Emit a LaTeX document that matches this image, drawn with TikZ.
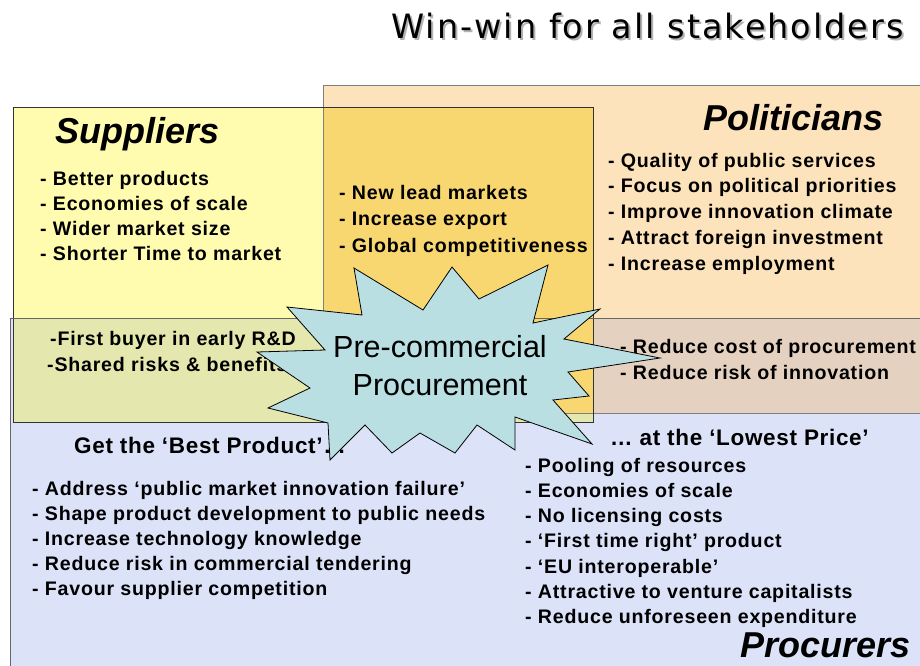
\documentclass[tikz,border=0pt]{standalone}
\usepackage{fontspec}
\setmainfont{Liberation Sans}
\newfontfamily\titlefont{DejaVu Sans}[LetterSpace=6]
\definecolor{polfill}{HTML}{FDE3BB}
\definecolor{supfill}{HTML}{FFFCB0}
\definecolor{goldfill}{HTML}{F9D770}
\definecolor{profill}{HTML}{DCE3F9}
\definecolor{spfill}{HTML}{E4E7AE}
\definecolor{ppfill}{HTML}{E5D1C0}
\definecolor{starfill}{HTML}{B9DFE2}
\newcommand\bodyfont{\fontsize{19.6}{23}\selectfont\bfseries\addfontfeature{LetterSpace=4}}
\newcommand\subheadfont{\fontsize{22.5}{26}\selectfont\bfseries\addfontfeature{LetterSpace=3}}
\newcommand\headfont{\fontsize{36}{40}\selectfont\bfseries\itshape}
\newcommand\titletext{Win-win for all stakeholders}
\tikzset{
  item/.style={font=\bodyfont, anchor=base west, inner sep=0pt},
  subhead/.style={font=\subheadfont, anchor=base west, inner sep=0pt},
  heading/.style={font=\headfont, anchor=base west, inner sep=0pt},
  burst/.style={fill=starfill, draw=black, line width=0.8pt, line join=miter},
  starlabel/.style={font=\fontsize{30.5}{34}\selectfont, anchor=base, inner sep=0pt},
}
\begin{document}
\begin{tikzpicture}[x=1pt,y=-1pt]
\useasboundingbox (0,0) rectangle (920,665);
\fill[white] (0,0) rectangle (920,665);

% stakeholder areas and their overlaps
\fill[polfill] (323,85) rectangle (925,413);
\fill[profill] (10,318) rectangle (925,670);
\fill[ppfill] (593,318) rectangle (925,413);
\fill[supfill] (13,107) rectangle (593,422);
\fill[spfill] (13,318) rectangle (593,422);
\fill[goldfill] (323,107) rectangle (593,413);

% outlines
\draw[color=black!50, line width=0.8pt] (323,85) rectangle (925,413);
\draw[color=black!80, line width=0.8pt] (13,107) rectangle (593,422);
\draw[color=black!60, line width=0.8pt] (10,318) rectangle (925,670);

% title with its drop shadow
\node[font=\titlefont\fontsize{33.5}{36}\selectfont, anchor=base east, inner sep=0pt] (title) at (904,38)
  {\rlap{\kern2pt\raisebox{-2pt}{\color{black!30}\titletext}}\titletext};

% headings
\node[heading] (suppliers) at (55,143) {Suppliers};
\node[heading] (politicians) at (703,130) {Politicians};
\node[heading] (procurers) at (740,657) {Procurers};

% supplier benefits
\foreach \t [count=\i] in {Better products, Economies of scale, Wider market size, Shorter Time to market}
  \node[item] (sup\i) at (40,{185+25.3*(\i-1)}) {- \t};

% suppliers and politicians
\foreach \t [count=\i] in {New lead markets, Increase export, Global competitiveness}
  \node[item] (sp\i) at (339,{199+26.5*(\i-1)}) {- \t};

% politician benefits
\foreach \t [count=\i] in {Quality of public services, Focus on political priorities, Improve innovation climate, Attract foreign investment, Increase employment}
  \node[item] (pol\i) at (608,{167+25.8*(\i-1)}) {- \t};

% suppliers and procurers
\node[item] (spr1) at (50,345) {-First buyer in early R\&D};
\node[item] (spr2) at (47,371) {-Shared risks \& benefits};

% politicians and procurers
\node[item] (ppr1) at (620,353) {- Reduce cost of procurement};
\node[item] (ppr2) at (620,379) {- Reduce risk of innovation};

% procurer benefits
\node[subhead] (best) at (74,453) {Get the ‘Best Product’…};
\foreach \t [count=\i] in {Address ‘public market innovation failure’, Shape product development to public needs, Increase technology knowledge, Reduce risk in commercial tendering, Favour supplier competition}
  \node[item] (pra\i) at (32,{495+25*(\i-1)}) {- \t};

\node[subhead] (lowest) at (610,445) {… at the ‘Lowest Price’};
\foreach \t [count=\i] in {Pooling of resources, Economies of scale, No licensing costs, ‘First time right’ product, ‘EU interoperable’, Attractive to venture capitalists, Reduce unforeseen expenditure}
  \node[item] (prb\i) at (525,{472+25.3*(\i-1)}) {- \t};

% central burst
\draw[burst] (287,307) -- (362,315) -- (354,268) -- (423,310) -- (452,267)
  -- (479,299) -- (548,265) -- (533,323) -- (600,309) -- (564,339)
  -- (660,358) -- (568,372) -- (589,396) -- (553,400) -- (592,444)
  -- (515,417) -- (515,450) -- (477,425) -- (455,453) -- (420,433)
  -- (392,453) -- (365,425) -- (330,460) -- (328,423) -- (268,408)
  -- (310,388) -- (257,352) -- (325,350) -- cycle;
\node[starlabel] (pcp1) at (440,357) {Pre-commercial};
\node[starlabel] (pcp2) at (440,395) {Procurement};
\end{tikzpicture}
\end{document}
